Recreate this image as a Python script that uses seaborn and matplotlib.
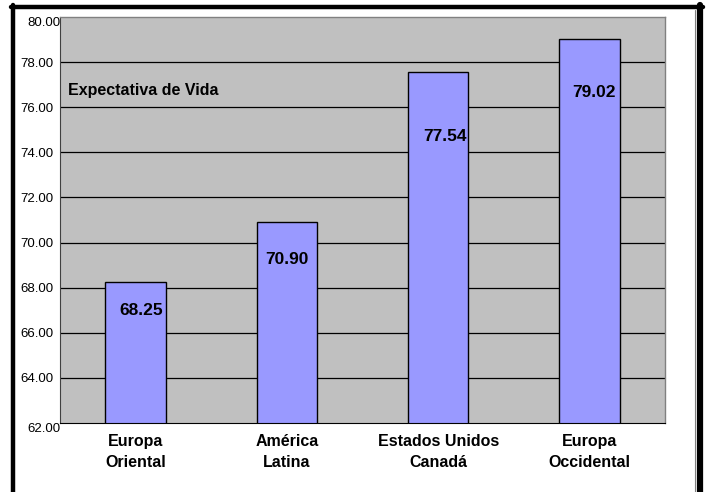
import matplotlib
matplotlib.use("Agg")
import matplotlib.pyplot as plt
import matplotlib.transforms as mtransforms
from matplotlib.lines import Line2D
import seaborn as sns
import pandas as pd

# data
regions = ["Europa\nOriental", "América\nLatina", "Estados Unidos\nCanadá", "Europa\nOccidental"]
life_expectancy = [68.25, 70.90, 77.54, 79.02]
y_ticks = [62, 64, 66, 68, 70, 72, 74, 76, 78, 80]

# label placement inside each bar (pixels below bar top, pixels right of centre)
label_drop_px = [28, 37, 64, 53]
label_shift_px = [6, 0, 7, 5]

sns.set_style("white")
plt.rcParams["font.family"] = ["Liberation Sans", "DejaVu Sans"]
plt.rcParams["text.color"] = "black"
plt.rcParams["xtick.color"] = "black"
plt.rcParams["ytick.color"] = "black"

df = pd.DataFrame({"region": regions, "value": life_expectancy})

fig = plt.figure(figsize=(7.1, 4.92), dpi=100)
ax = fig.add_axes([60 / 710, 69 / 492, 605 / 710, 406 / 492])
ax.set_facecolor("#C0C0C0")

sns.barplot(
    data=df, x="region", y="value", ax=ax,
    color="#9999FF", edgecolor="black", linewidth=1.0,
    width=0.4, saturation=1, zorder=3,
)

ax.set_ylim(62, 80)
ax.set_xlim(-0.5, 3.5)
ax.set_yticks(y_ticks)
ax.set_yticklabels([f"{v:.2f}" for v in y_ticks], fontsize=9.5)
for v in y_ticks[1:-1]:
    ax.axhline(v, color="black", linewidth=0.9, zorder=1)

ax.set_xlabel("")
ax.set_ylabel("")
ax.set_xticks(range(len(regions)))
ax.set_xticklabels(regions, fontsize=11.5, fontweight="bold", linespacing=1.45)
ax.tick_params(axis="x", length=0, pad=8)
ax.set_xticks([0.5, 1.5, 2.5, 3.5], minor=True)
ax.tick_params(axis="x", which="minor", length=3, direction="out", color="black", width=0.8)
ax.tick_params(axis="y", length=3, direction="out", color="black", width=0.8, pad=2)

# top and bottom y labels sit shifted in the original
labels = ax.get_yticklabels()
labels[0].set_transform(labels[0].get_transform() +
                        mtransforms.ScaledTranslation(7 / 100, -4 / 100, fig.dpi_scale_trans))
labels[-1].set_transform(labels[-1].get_transform() +
                         mtransforms.ScaledTranslation(7 / 100, -5 / 100, fig.dpi_scale_trans))

for side in ["top", "right"]:
    ax.spines[side].set_color("#808080")
    ax.spines[side].set_linewidth(1.0)
ax.spines["left"].set_color("#404040")
ax.spines["bottom"].set_color("black")
for s in ax.spines.values():
    s.set_zorder(4)

for i, v in enumerate(life_expectancy):
    ax.annotate(
        f"{v:.2f}", xy=(i, v), xytext=(label_shift_px[i] * 0.72, -label_drop_px[i] * 0.72),
        textcoords="offset points", ha="center", va="center",
        fontsize=12.5, fontweight="bold", color="black", zorder=5,
    )

ax.text(68 / 710, 401 / 492, "Expectativa de Vida", transform=fig.transFigure,
        fontsize=11.5, fontweight="bold", color="black", ha="left", va="center", zorder=5)

# outer frame of the original sheet
fig.add_artist(Line2D([13 / 710, 13 / 710], [-0.01, 487 / 492], color="black", linewidth=3.2,
                      transform=fig.transFigure))
fig.add_artist(Line2D([11 / 710, 703 / 710], [485 / 492, 485 / 492], color="black", linewidth=3.2,
                      transform=fig.transFigure))
fig.add_artist(Line2D([700 / 710, 700 / 710], [-0.01, 487 / 492], color="black", linewidth=4.5,
                      transform=fig.transFigure))
fig.add_artist(Line2D([695 / 710, 695 / 710], [-0.01, 482 / 492], color="#808080", linewidth=0.8,
                      transform=fig.transFigure))

fig.savefig("out.png", dpi=100)
